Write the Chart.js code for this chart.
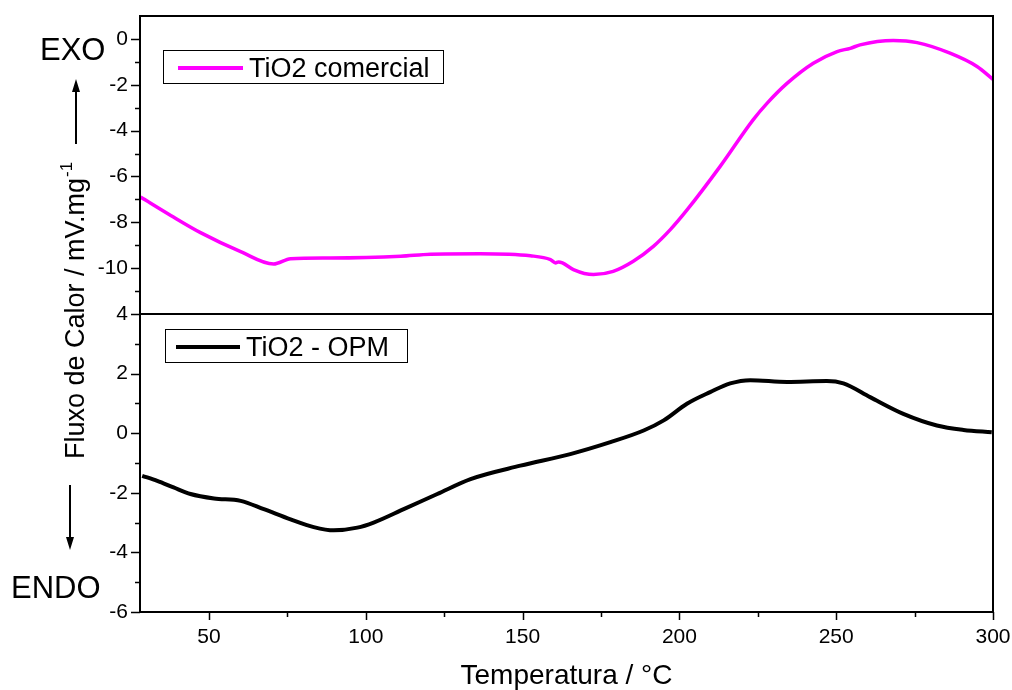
<!DOCTYPE html>
<html>
<head>
<meta charset="utf-8">
<script src="https://cdn.jsdelivr.net/npm/chart.js@4.4.0/dist/chart.umd.min.js"></script>
<style>
  html, body { margin: 0; padding: 0; background: #fff; }
  #wrap { width: 1012px; height: 690px; }
</style>
</head>
<body>
<div id="wrap"><canvas id="dsc" width="1012" height="690"></canvas></div>
<script>
// TiO2 comercial (top panel)
const tempComercial = [28.2, 37.8, 47.3, 60.1, 70.6, 76.0, 88.7, 111.1, 120.6, 136.5, 152.5, 158.9, 160.5, 161.4, 162.7, 166.2, 172.6, 178.9, 185.3, 191.7, 197.1, 202.5, 213.0, 223.5, 228.0, 234.4, 242.7, 250.3, 254.5, 257.6, 268.2, 275.8, 286.3, 294.9, 300];
const fluxoComercial = [-6.9, -7.7, -8.45, -9.28, -9.82, -9.59, -9.56, -9.48, -9.39, -9.37, -9.46, -9.63, -9.77, -9.73, -9.77, -10.06, -10.28, -10.14, -9.7, -9.05, -8.32, -7.45, -5.56, -3.53, -2.8, -1.93, -1.06, -0.55, -0.41, -0.26, -0.07, -0.16, -0.62, -1.2, -1.76];

// TiO2 - OPM (bottom panel)
const tempOPM = [28.7, 33.5, 38.7, 44.1, 51.6, 60.1, 67.5, 76.0, 83.4, 89.8, 97.3, 102.5, 112.1, 122.8, 133.4, 149.3, 165.2, 178.0, 188.6, 195.0, 202.4, 209.8, 216.2, 222.6, 234.3, 247.0, 252.3, 260.8, 271.4, 282.1, 290.6, 299.6];
const fluxoOPM = [-1.43, -1.6, -1.82, -2.04, -2.19, -2.27, -2.55, -2.89, -3.15, -3.26, -3.17, -3.0, -2.55, -2.04, -1.54, -1.09, -0.7, -0.3, 0.09, 0.43, 0.99, 1.38, 1.67, 1.78, 1.72, 1.75, 1.67, 1.21, 0.65, 0.26, 0.11, 0.03];

const xTicks = [50, 75, 100, 125, 150, 175, 200, 225, 250, 275, 300];
const topTickLabels = [0, -2, -4, -6, -8, -10];
const bottomTickLabels = [4, 2, 0, -2, -4, -6];

const FONT = '"Liberation Sans", Arial, sans-serif';

function toPoints(xs, ys) {
    return xs.map((x, i) => ({ x: x, y: ys[i] }));
}

// frame, tick marks, legends, titles, EXO/ENDO arrows
const decorations = {
    id: 'decorations',
    afterDraw(chart) {
        const ctx = chart.ctx;
        const area = chart.chartArea;
        const sx = chart.scales.x;
        const yTop = chart.scales.yTop;
        const yBot = chart.scales.yBot;

        ctx.save();
        ctx.strokeStyle = '#000';
        ctx.fillStyle = '#000';

        // ticks
        ctx.lineWidth = 1.5;
        ctx.beginPath();
        xTicks.forEach(v => {
            const px = Math.round(sx.getPixelForValue(v)) + 0.5;
            const len = v % 50 === 0 ? 8 : 5;
            ctx.moveTo(px, area.bottom);
            ctx.lineTo(px, area.bottom + len);
        });
        [yTop, yBot].forEach(s => {
            s.ticks.forEach(t => {
                if (s === yTop && (t.value === 1 || t.value === -12)) return;
                const py = Math.round(s.getPixelForValue(t.value)) + 0.5;
                const len = t.value % 2 === 0 ? 9 : 5;
                ctx.moveTo(area.left, py);
                ctx.lineTo(area.left - len, py);
            });
        });
        ctx.stroke();

        // frame and divider
        ctx.lineWidth = 2;
        ctx.strokeRect(area.left, area.top, area.right - area.left, area.bottom - area.top);
        ctx.beginPath();
        ctx.moveTo(area.left, yTop.bottom);
        ctx.lineTo(area.right, yTop.bottom);
        ctx.stroke();

        // legends
        ctx.lineWidth = 1;
        ctx.strokeRect(163.5, 50.5, 280, 33);
        ctx.strokeRect(165.5, 329.5, 242, 33);
        ctx.lineWidth = 4;
        ctx.strokeStyle = '#ff00ff';
        ctx.beginPath();
        ctx.moveTo(178, 68);
        ctx.lineTo(243, 68);
        ctx.stroke();
        ctx.strokeStyle = '#000';
        ctx.beginPath();
        ctx.moveTo(176, 347);
        ctx.lineTo(240, 347);
        ctx.stroke();
        ctx.font = '27px ' + FONT;
        ctx.textAlign = 'left';
        ctx.textBaseline = 'alphabetic';
        ctx.fillText('TiO2 comercial', 249, 77);
        ctx.fillText('TiO2 - OPM', 246, 356);

        // x title
        ctx.font = '28px ' + FONT;
        ctx.textAlign = 'center';
        ctx.fillText('Temperatura / °C', (area.left + area.right) / 2, 684);

        // y title, rotated, with superscript
        ctx.save();
        ctx.translate(84, 311);
        ctx.rotate(-Math.PI / 2);
        const main = 'Fluxo de Calor / mV.mg';
        const sup = '-1';
        ctx.font = '27px ' + FONT;
        const w1 = ctx.measureText(main).width;
        ctx.font = '17px ' + FONT;
        const w2 = ctx.measureText(sup).width;
        const start = -(w1 + w2) / 2;
        ctx.textAlign = 'left';
        ctx.font = '27px ' + FONT;
        ctx.fillText(main, start, 0);
        ctx.font = '17px ' + FONT;
        ctx.fillText(sup, start + w1 + 1, -12);
        ctx.restore();

        // EXO / ENDO
        ctx.font = '31px ' + FONT;
        ctx.textAlign = 'left';
        ctx.fillText('EXO', 40, 60);
        ctx.fillText('ENDO', 11, 598);

        // arrows
        ctx.lineWidth = 2;
        ctx.beginPath();
        ctx.moveTo(76, 144);
        ctx.lineTo(76, 90);
        ctx.moveTo(70, 485);
        ctx.lineTo(70, 540);
        ctx.stroke();
        ctx.beginPath();
        ctx.moveTo(76, 79);
        ctx.lineTo(72, 92);
        ctx.lineTo(80, 92);
        ctx.closePath();
        ctx.moveTo(70, 550);
        ctx.lineTo(66, 537);
        ctx.lineTo(74, 537);
        ctx.closePath();
        ctx.fill();

        ctx.restore();
    }
};

const tickFont = { family: FONT, size: 21 };

function fitY(scale) {
    scale.width = 140;
    scale.paddingTop = 0;
    scale.paddingBottom = 0;
}

new Chart(document.getElementById('dsc'), {
    type: 'line',
    data: {
        datasets: [{
            label: 'TiO2 comercial',
            data: toPoints(tempComercial, fluxoComercial),
            yAxisID: 'yTop',
            borderColor: '#ff00ff',
            borderWidth: 3.5,
            pointRadius: 0,
            cubicInterpolationMode: 'monotone',
            fill: false
        }, {
            label: 'TiO2 - OPM',
            data: toPoints(tempOPM, fluxoOPM),
            yAxisID: 'yBot',
            borderColor: '#000000',
            borderWidth: 4,
            pointRadius: 0,
            cubicInterpolationMode: 'monotone',
            fill: false
        }]
    },
    options: {
        responsive: false,
        animation: false,
        layout: { padding: { top: 16, right: 19, left: 0, bottom: 0 } },
        plugins: {
            legend: { display: false },
            tooltip: { enabled: false }
        },
        scales: {
            x: {
                type: 'linear',
                min: 28,
                max: 300,
                grid: { display: false, drawTicks: false },
                border: { display: false },
                afterBuildTicks: scale => {
                    scale.ticks = xTicks.map(v => ({ value: v }));
                },
                afterFit: scale => {
                    scale.height = 78;
                    scale.paddingLeft = 0;
                    scale.paddingRight = 0;
                },
                ticks: {
                    autoSkip: false,
                    maxRotation: 0,
                    padding: 13,
                    color: '#000',
                    font: tickFont,
                    callback: v => (v % 50 === 0 ? String(v) : '')
                }
            },
            yBot: {
                type: 'linear',
                position: 'left',
                stack: 'panels',
                stackWeight: 1,
                min: -6,
                max: 4,
                grid: { display: false, drawTicks: false },
                border: { display: false },
                afterFit: fitY,
                ticks: {
                    stepSize: 1,
                    autoSkip: false,
                    padding: 12,
                    color: '#000',
                    font: tickFont,
                    callback: v => (bottomTickLabels.includes(v) ? String(v) : '')
                }
            },
            yTop: {
                type: 'linear',
                position: 'left',
                stack: 'panels',
                stackWeight: 1,
                min: -12,
                max: 1,
                grid: { display: false, drawTicks: false },
                border: { display: false },
                afterFit: fitY,
                ticks: {
                    stepSize: 1,
                    autoSkip: false,
                    padding: 12,
                    color: '#000',
                    font: tickFont,
                    callback: v => (topTickLabels.includes(v) ? String(v) : '')
                }
            }
        }
    },
    plugins: [decorations]
});
</script>
</body>
</html>
